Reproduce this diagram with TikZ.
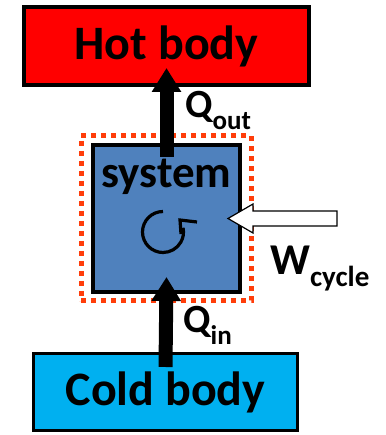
\documentclass[tikz,border=0pt]{standalone}
\usepackage{fontspec}
\setmainfont{Carlito}
\usetikzlibrary{arrows.meta, positioning, calc}
\definecolor{HotRed}{HTML}{FF0000}
\definecolor{SysBlue}{HTML}{4F81BD}
\definecolor{ColdBlue}{HTML}{00B0F0}
\definecolor{BoundOrange}{HTML}{FF3D0A}
\newcommand{\lowsub}[2][27]{\raisebox{-12pt}{\fontsize{#1}{#1}\selectfont\bfseries #2}}

\begin{document}
\begin{tikzpicture}[x=1pt, y=1pt, >=Triangle]
    \useasboundingbox (0,0) rectangle (385,435);
    \tikzset{
        body/.style={draw, line width=4pt, font=\fontsize{48}{48}\selectfont\bfseries},
        heat/.style={line width=14pt, -{Triangle[width=28pt,length=24pt]}},
        lbl/.style={font=\fontsize{40}{40}\selectfont\bfseries, inner sep=0pt, anchor=base west},
    }
    \node (hot) [body, fill=HotRed, minimum width=285pt, minimum height=78pt] at (166.5,389) {Hot body};
    \node (cold) [body, fill=ColdBlue, line width=3pt, minimum width=264pt, minimum height=77pt] at (165.5,43) {Cold body};
    \node (bound) [draw=BoundOrange, line width=5pt, dash pattern=on 5pt off 5pt, minimum width=170pt, minimum height=165pt] at (166,216.5) {};
    \node (sys) [draw, fill=SysBlue, line width=4pt, minimum width=147pt, minimum height=147pt] at (166.5,216.5) {};

    % heat flows
    \draw[heat] ([yshift=-14pt]sys.north) -- ([yshift=19pt]hot.south);
    \draw[heat] ([yshift=-15pt]cold.north) -- ([yshift=17pt]sys.south);
    \node (systxt) [font=\fontsize{45}{45}\selectfont\bfseries, inner sep=0pt, anchor=base] at (166.5,247) {system};

    % cycle symbol
    \coordinate (cyc) at (163,203);
    \coordinate (cyctip) at (180,215);
    \draw[line width=3.2pt] ($(cyc)+(90:20.5)$) arc[start angle=90, end angle=372, radius=20.5];
    \draw[line width=3.2pt] ($(cyctip)+(1,-14)$) -- (cyctip) -- ($(cyctip)+(17,-2)$);

    % work input
    \coordinate (wtip) at ([xshift=-14pt]sys.east);
    \draw[line width=1.2pt, fill=white] (wtip) -- ++(25,14.5) -- ++(0,-7) -- ++(84,0) -- ++(0,-15)
        -- ++(-84,0) -- ++(0,-7) -- cycle;

    \node (qout) [lbl] at (185,317) {Q\lowsub{out}};
    \node (qin) [lbl] at (183,102) {Q\lowsub{in}};
    \node (wcyc) [lbl, font=\fontsize{44}{44}\selectfont\bfseries] at (270,160) {W\lowsub[29]{cycle}};
\end{tikzpicture}
\end{document}
